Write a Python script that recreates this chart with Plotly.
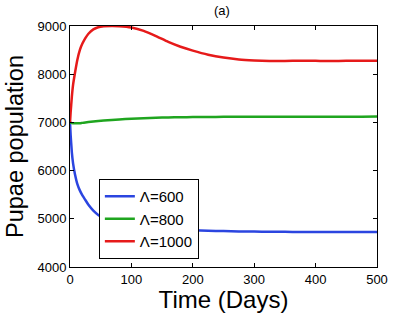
import plotly.graph_objects as go

days = [0, 1, 3, 5, 8, 12, 16, 20, 25, 30, 38, 46, 55, 68, 80, 100, 120, 140, 160, 180, 200, 225, 250, 275, 300, 325, 350, 375, 400, 425, 450, 475, 500]
pupae_600 = [7000, 6750, 6380, 6150, 5930, 5720, 5590, 5490, 5390, 5290, 5170, 5080, 5010, 4930, 4885, 4830, 4805, 4788, 4777, 4770, 4765, 4752, 4745, 4738, 4735, 4731, 4729, 4728, 4728, 4726, 4727, 4727, 4727]
pupae_800 = [7000, 6995, 6988, 6984, 6981, 6981, 6984, 6990, 6998, 7006, 7018, 7030, 7040, 7052, 7062, 7075, 7087, 7096, 7103, 7108, 7110, 7113, 7115, 7116, 7118, 7118, 7118, 7118, 7119, 7118, 7117, 7119, 7120]
pupae_1000 = [7000, 7200, 7530, 7780, 8020, 8300, 8500, 8630, 8750, 8840, 8930, 8975, 8993, 9000, 8995, 8968, 8900, 8790, 8670, 8570, 8490, 8405, 8345, 8305, 8285, 8275, 8275, 8280, 8278, 8272, 8280, 8280, 8280]

series = [
    ("\u039b=600", pupae_600, "#2b45e0"),
    ("\u039b=800", pupae_800, "#1fa51f"),
    ("\u039b=1000", pupae_1000, "#e61a1a"),
]

fig = go.Figure()
for name, vals, col in series:
    fig.add_trace(go.Scatter(x=days, y=vals, mode="lines", name=name,
                             line=dict(color=col, width=2.5, shape="spline", smoothing=0.4)))

axis_common = dict(showline=True, linecolor="black", linewidth=1, mirror="ticks",
                   ticks="inside", ticklen=4, tickcolor="black", showgrid=False,
                   zeroline=False, automargin=False,
                   tickfont=dict(family="Liberation Sans, Arial", size=13, color="black"))

fig.update_layout(
    width=417, height=313,
    margin=dict(l=70, r=40, t=26, b=46),
    paper_bgcolor="white", plot_bgcolor="white",
    xaxis=dict(range=[0, 500], tickvals=[0, 100, 200, 300, 400, 500],
               title=dict(text="Time (Days)", standoff=0,
                          font=dict(family="Liberation Sans, Arial", size=24, color="black")),
               **axis_common),
    yaxis=dict(range=[4000, 9000], tickvals=[4000, 5000, 6000, 7000, 8000, 9000],
               title=dict(text="Pupae population", standoff=7,
                          font=dict(family="Liberation Sans, Arial", size=23.5, color="black")),
               **axis_common),
    legend=dict(x=0.094, y=0.033, xanchor="left", yanchor="bottom",
                bgcolor="white", bordercolor="black", borderwidth=1,
                font=dict(family="Liberation Sans, Arial", size=15, color="black"),
                tracegroupgap=0, itemwidth=30),
    showlegend=True,
    annotations=[dict(text="(a)", xref="paper", yref="paper", x=0.495, y=1.0,
                      yshift=16, xanchor="center", yanchor="middle", showarrow=False,
                      font=dict(family="Liberation Sans, Arial", size=13, color="black"))],
)

fig.write_html("out.html", config={"displayModeBar": False},
               post_script="document.body.style.margin='0';document.body.style.overflow='hidden';")
